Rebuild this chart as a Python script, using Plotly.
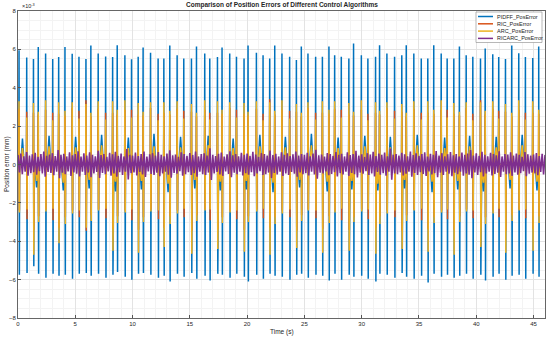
import numpy as np
import plotly.graph_objects as go

# ---------------- data (units: 1e-3 mm) ----------------
ev_t = [0.09, 0.76, 1.35, 1.77, 2.41, 3.03, 3.55, 4.10, 4.73, 5.32, 5.93, 6.36,
        7.00, 7.65, 8.26, 8.66, 9.33, 9.91, 10.49, 10.92, 11.57, 12.23, 12.73, 13.25,
        13.89, 14.47, 15.14, 15.58, 16.30, 16.74, 17.41, 17.81, 18.48, 19.07, 19.73, 20.08,
        20.81, 21.39, 21.97, 22.41, 23.04, 23.71, 24.30, 24.73, 25.31, 25.98, 26.57, 27.14,
        27.64, 28.22, 28.88, 29.29, 29.97, 30.54, 31.21, 31.56, 32.20, 32.87, 33.50, 33.89,
        34.55, 35.20, 35.77, 36.29, 36.94, 37.46, 38.04, 38.53, 39.12, 39.70, 40.37, 40.78,
        41.44, 41.96, 42.55, 43.10, 43.71, 44.29, 44.93, 45.45]

pid_pos = [5.95, 5.58, 5.50, 6.13, 5.78, 5.50, 5.60, 6.13, 5.77, 5.62, 5.50, 6.20,
           5.78, 5.63, 5.60, 6.22, 5.70, 5.48, 5.61, 6.10, 5.82, 5.53, 5.53, 6.20,
           5.70, 5.53, 5.53, 6.15, 5.78, 5.53, 5.60, 6.10, 5.78, 5.61, 5.53, 6.20,
           5.82, 5.70, 5.53, 6.20, 5.78, 5.61, 5.44, 6.15, 5.78, 5.61, 5.61, 6.15,
           5.70, 5.61, 5.53, 6.30, 5.70, 5.53, 5.61, 6.22, 5.78, 5.61, 5.70, 6.22,
           5.78, 5.53, 5.53, 6.22, 5.78, 5.53, 5.53, 6.15, 5.70, 5.61, 5.53, 6.05,
           5.75, 5.60, 5.50, 6.20, 5.80, 5.60, 5.55, 6.15]

pid_neg = [-5.75, -5.65, -5.30, -5.70, -5.90, -5.70, -5.80, -5.75, -5.95, -5.70, -5.65, -5.80,
           -5.70, -5.90, -5.75, -5.60, -5.85, -6.00, -5.70, -5.65, -5.75, -5.90, -5.80, -6.10,
           -5.70, -5.85, -5.65, -5.95, -5.80, -6.05, -5.70, -5.75, -5.90, -5.70, -5.85, -6.10,
           -5.75, -5.95, -5.70, -5.80, -5.85, -6.00, -5.75, -5.70, -5.90, -5.75, -5.80, -6.05,
           -5.70, -6.00, -5.75, -5.85, -5.80, -5.95, -6.10, -5.70, -5.75, -5.90, -5.65, -5.85,
           -5.95, -5.80, -6.15, -5.70, -5.85, -5.75, -5.90, -5.80, -5.70, -5.95, -5.75, -6.05,
           -5.85, -5.70, -6.00, -5.80, -5.75, -5.95, -5.70, -5.85]

ric_pos = [2.90, 2.75, 2.70, 2.60, 2.85, 2.70, 2.65, 2.55, 2.95, 2.80, 3.35, 2.50,
           2.90, 2.70, 2.70, 2.60, 2.85, 2.85, 2.60, 2.55, 2.95, 2.65, 2.70, 2.60,
           2.90, 2.80, 2.75, 2.50, 2.85, 2.70, 2.70, 2.65, 2.95, 2.85, 2.65, 2.55,
           2.90, 2.65, 3.40, 2.60, 2.85, 2.80, 2.75, 2.50, 2.95, 2.70, 2.70, 2.65,
           2.90, 2.85, 2.60, 2.55, 2.85, 2.65, 2.70, 2.60, 2.95, 2.80, 2.75, 2.50,
           2.90, 2.70, 2.70, 2.65, 2.85, 2.85, 2.65, 2.55, 2.95, 2.65, 3.35, 2.60,
           2.90, 2.80, 2.75, 2.50, 2.85, 2.70, 2.70, 2.65]

ric_neg = [-2.40, -2.85, -3.40, -2.70, -2.35, -2.90, -3.30, -2.75, -2.40, -2.75, -3.45, -2.65,
           -2.35, -2.80, -3.35, -2.70, -2.40, -2.90, -3.40, -2.75, -2.35, -2.85, -3.30, -2.70,
           -2.40, -2.75, -3.45, -2.65, -2.35, -2.90, -3.35, -2.75, -2.40, -2.85, -3.40, -2.70,
           -2.35, -2.80, -3.30, -2.75, -2.40, -2.75, -3.45, -2.65, -2.35, -2.80, -3.35, -2.70,
           -2.40, -2.90, -3.40, -2.75, -2.35, -2.85, -3.30, -2.70, -2.40, -2.75, -3.45, -2.65,
           -2.35, -2.90, -3.35, -2.75, -2.40, -2.85, -3.40, -2.70, -2.35, -2.80, -3.30, -2.75,
           -2.40, -2.75, -3.45, -2.65, -2.35, -2.80, -3.35, -2.70]

arc_pos = [3.30, 2.45, 3.20, 2.75, 3.35, 2.30, 3.25, 2.80, 3.25, 2.40, 3.15, 2.70,
           3.30, 2.35, 3.30, 2.85, 3.35, 2.45, 3.20, 2.75, 3.25, 2.30, 3.25, 2.80,
           3.30, 2.40, 3.15, 2.70, 3.35, 2.35, 3.30, 2.85, 3.25, 2.45, 3.20, 2.75,
           3.30, 2.30, 3.25, 2.80, 3.35, 2.40, 3.15, 2.70, 3.25, 2.35, 3.30, 2.85,
           3.30, 2.45, 3.20, 2.75, 3.35, 2.30, 3.25, 2.80, 3.25, 2.40, 3.15, 2.70,
           3.30, 2.35, 3.30, 2.85, 3.35, 2.45, 3.20, 2.75, 3.25, 2.30, 3.25, 2.80,
           3.30, 2.40, 3.15, 2.70, 3.35, 2.35, 3.30, 2.85]

arc_neg = [-2.50, -2.35, -4.70, -3.00, -2.45, -2.30, -4.10, -3.10, -2.55, -2.40, -3.30, -2.95,
           -2.40, -2.30, -4.50, -3.05, -2.50, -2.35, -4.60, -3.00, -2.45, -2.40, -4.30, -3.10,
           -2.55, -2.30, -4.65, -2.95, -2.40, -2.35, -4.40, -3.05, -2.50, -2.40, -4.55, -3.00,
           -2.45, -2.30, -4.70, -3.10, -2.55, -2.35, -4.35, -2.95, -2.40, -2.40, -4.60, -3.05,
           -2.50, -2.30, -4.50, -3.00, -2.45, -2.35, -4.65, -3.10, -2.55, -2.40, -4.40, -2.95,
           -2.40, -2.30, -4.55, -3.05, -2.50, -2.35, -4.70, -3.00, -2.45, -2.40, -4.30, -3.10,
           -2.55, -2.30, -4.60, -2.95, -2.40, -2.35, -4.50, -3.05]

blob_up_t = [0.39, 2.71, 5.03, 7.30, 9.63, 11.87, 14.19, 16.60, 18.78, 21.11,
             23.34, 25.61, 27.94, 30.27, 32.50, 34.85, 37.24, 39.42, 41.74, 44.01]
blob_up_pid = [1.35, 1.50, 1.45, 1.55, 1.40, 1.60, 1.45, 1.50, 1.35, 1.55,
               1.45, 1.60, 1.40, 1.50, 1.45, 1.55, 1.40, 1.50, 1.45, 1.55]
blob_up_arc = [0.85, 0.95, 0.90, 1.00, 0.85, 0.95, 0.90, 1.00, 0.85, 0.95,
               0.90, 1.00, 0.85, 0.95, 0.90, 1.00, 0.85, 0.95, 0.90, 1.00]
blob_dn_t = [1.62, 3.95, 6.21, 8.51, 10.77, 13.10, 15.43, 17.66, 19.93, 22.26,
             24.58, 26.99, 29.14, 31.41, 33.74, 36.14, 38.38, 40.63, 42.95, 45.30]
blob_dn_pid = [-1.20, -1.35, -1.25, -1.40, -1.30, -1.45, -1.25, -1.35, -1.30, -1.45,
               -1.20, -1.40, -1.30, -1.35, -1.25, -1.45, -1.30, -1.40, -1.25, -1.35]
blob_dn_arc = [-0.85, -0.95, -0.80, -0.90, -0.85, -1.00, -0.80, -0.90, -0.85, -0.95,
               -0.80, -0.90, -0.85, -1.00, -0.80, -0.90, -0.85, -0.95, -0.80, -0.90]

ricarc_upper = [0.50, 0.57, 0.43, 0.65, 0.47, 0.53, 0.61, 0.40, 0.55, 0.67, 0.45, 0.52, 0.59, 0.44, 0.75, 0.50, 0.56, 0.42, 0.63, 0.48,
                0.54, 0.69, 0.41, 0.58, 0.46, 0.64, 0.51, 0.43, 0.72, 0.49, 0.55, 0.40, 0.61, 0.53, 0.66, 0.45, 0.57, 0.42, 0.80, 0.50,
                0.47, 0.62, 0.44, 0.55, 0.68, 0.41, 0.53, 0.59, 0.46, 0.65, 0.50, 0.43, 0.57, 0.74, 0.48, 0.52, 0.40, 0.63, 0.55, 0.45,
                0.60, 0.49, 0.67, 0.42, 0.54, 0.58, 0.47, 0.85, 0.51, 0.44, 0.56, 0.62, 0.41, 0.53, 0.69, 0.48, 0.55, 0.43, 0.61, 0.50,
                0.57, 0.45, 0.66, 0.52, 0.40, 0.59, 0.54, 0.47, 0.73, 0.49, 0.56, 0.42, 0.64, 0.51, 0.58, 0.44, 0.53, 0.68, 0.46, 0.55,
                0.50, 0.61, 0.43, 0.57, 0.77, 0.48, 0.52, 0.41, 0.60, 0.54, 0.45, 0.65, 0.50, 0.56, 0.42, 0.63, 0.49, 0.55, 0.71, 0.47,
                0.53, 0.40, 0.59, 0.52, 0.66, 0.44, 0.57, 0.50, 0.62, 0.43, 0.83, 0.51, 0.55, 0.46, 0.61, 0.53, 0.42, 0.67, 0.49, 0.58,
                0.45, 0.54, 0.64, 0.41, 0.56, 0.50, 0.70, 0.47, 0.59, 0.43, 0.53, 0.65, 0.48, 0.55, 0.42, 0.62, 0.51, 0.57, 0.75, 0.46,
                0.58, 0.45, 0.66, 0.51, 0.43, 0.61, 0.54, 0.48, 0.69, 0.42, 0.55, 0.52, 0.63, 0.46, 0.57, 0.50, 0.40, 0.65, 0.53, 0.47,
                0.52, 0.60, 0.44, 0.56, 0.49]

ricarc_lower = [-0.42, -0.50, -0.37, -0.58, -0.45, -0.40, -0.53, -0.35, -0.47, -0.64, -0.39, -0.44, -0.56, -0.38, -0.72, -0.43, -0.50, -0.36, -0.60, -0.41,
                -0.48, -0.62, -0.37, -0.55, -0.42, -0.66, -0.46, -0.39, -0.70, -0.44, -0.51, -0.36, -0.59, -0.47, -0.63, -0.40, -0.54, -0.38, -0.78, -0.45,
                -0.41, -0.57, -0.39, -0.52, -0.65, -0.36, -0.49, -0.55, -0.43, -0.61, -0.46, -0.38, -0.53, -0.69, -0.44, -0.48, -0.35, -0.58, -0.50, -0.40,
                -0.55, -0.45, -0.63, -0.37, -0.50, -0.54, -0.42, -0.80, -0.47, -0.39, -0.52, -0.59, -0.36, -0.49, -0.66, -0.43, -0.51, -0.38, -0.57, -0.45,
                -0.53, -0.40, -0.61, -0.47, -0.35, -0.55, -0.50, -0.42, -0.70, -0.44, -0.52, -0.37, -0.60, -0.46, -0.54, -0.39, -0.48, -0.64, -0.41, -0.51,
                -0.45, -0.57, -0.38, -0.52, -0.74, -0.43, -0.47, -0.36, -0.56, -0.49, -0.40, -0.62, -0.45, -0.52, -0.37, -0.59, -0.44, -0.50, -0.67, -0.42,
                -0.48, -0.35, -0.55, -0.47, -0.62, -0.39, -0.53, -0.45, -0.58, -0.38, -0.79, -0.46, -0.51, -0.41, -0.57, -0.48, -0.37, -0.63, -0.44, -0.54,
                -0.40, -0.49, -0.60, -0.36, -0.52, -0.45, -0.66, -0.42, -0.55, -0.38, -0.48, -0.61, -0.43, -0.51, -0.37, -0.58, -0.46, -0.53, -0.71, -0.41,
                -0.54, -0.40, -0.62, -0.46, -0.38, -0.57, -0.49, -0.43, -0.65, -0.37, -0.51, -0.47, -0.59, -0.41, -0.53, -0.45, -0.35, -0.61, -0.48, -0.42,
                -0.47, -0.56, -0.39, -0.52, -0.44]

x_ticks = [0, 5, 10, 15, 20, 25, 30, 35, 40, 45]
y_ticks = [-8, -6, -4, -2, 0, 2, 4, 6, 8]

names = ["PIDFF_PosError", "RIC_PosError", "ARC_PosError", "RICARC_PosError"]
colors = ["#0072BD", "#D95319", "#EDB120", "#7E2F8E"]

T_END = 46.0


def spike_series(pos, neg, up_v=None, dn_v=None):
    pts = [(0.0, 0.0), (T_END, 0.0)]
    for t, p, n in zip(ev_t, pos, neg):
        pts += [(t - 0.02, 0.0), (t, p), (t + 0.03, n), (t + 0.05, 0.0)]
    if up_v is not None:
        for t, v in zip(blob_up_t, up_v):
            pts += [(t - 0.15, 0.0), (t, v), (t + 0.15, 0.0)]
    if dn_v is not None:
        for t, v in zip(blob_dn_t, dn_v):
            pts += [(t - 0.15, 0.0), (t, v), (t + 0.15, 0.0)]
    pts.sort(key=lambda a: a[0])
    return [a[0] for a in pts], [a[1] for a in pts]


fig = go.Figure()

x, y = spike_series(pid_pos, pid_neg, blob_up_pid, blob_dn_pid)
fig.add_trace(go.Scatter(x=x, y=y, mode="lines", name=names[0],
                         line=dict(color=colors[0], width=1.5)))
x, y = spike_series(ric_pos, ric_neg)
fig.add_trace(go.Scatter(x=x, y=y, mode="lines", name=names[1],
                         line=dict(color=colors[1], width=1.5)))
x, y = spike_series(arc_pos, arc_neg, blob_up_arc, blob_dn_arc)
fig.add_trace(go.Scatter(x=x, y=y, mode="lines", name=names[2],
                         line=dict(color=colors[2], width=1.5)))

# RICARC: dense noise band drawn as zigzag between envelope values
n_env = min(len(ricarc_upper), len(ricarc_lower))
env_t = np.linspace(0, T_END, n_env)
half = (env_t[1] - env_t[0]) / 2
zx, zy = [], []
for i in range(n_env):
    zx += [env_t[i], env_t[i] + half]
    zy += [ricarc_upper[i], ricarc_lower[i]]
fig.add_trace(go.Scatter(x=zx, y=zy, mode="lines", name=names[3],
                         line=dict(color=colors[3], width=1.6)))

# ---------------- layout ----------------
L, R, T, B = 18, 5, 11, 21
W, H = 550, 339
pw, ph = W - L - R, H - T - B


def px(xp):
    return (xp - L) / pw


def py(yp):
    return (H - B - yp) / ph


FONT = "Liberation Sans, Arial, sans-serif"
TXT = "#262626"

fig.update_layout(
    width=W, height=H, margin=dict(l=L, r=R, t=T, b=B),
    paper_bgcolor="white", plot_bgcolor="white",
    showlegend=False,
    font=dict(family=FONT, size=6, color=TXT),
    xaxis=dict(range=[0, T_END], tickvals=x_ticks, ticks="inside", ticklen=3,
               tickcolor="#555", showline=True, mirror=True, linecolor="#666",
               linewidth=0.8, showgrid=True, gridcolor="#e3e3e3", gridwidth=0.6,
               zeroline=False, tickfont=dict(size=6, color=TXT),
               minor=dict(dtick=1, showgrid=True, gridcolor="#f3f3f3", gridwidth=0.5)),
    yaxis=dict(range=[-8, 8], tickvals=y_ticks, ticks="inside", ticklen=3,
               tickcolor="#555", showline=True, mirror=True, linecolor="#666",
               linewidth=0.8, showgrid=True, gridcolor="#e3e3e3", gridwidth=0.6,
               zeroline=False, tickfont=dict(size=6, color=TXT),
               minor=dict(dtick=0.5, showgrid=True, gridcolor="#f3f3f3", gridwidth=0.5)),
)

ann = [
    dict(text="<b>Comparison of Position Errors of Different Control Algorithms</b>",
         x=0.5, y=py(5.5), xref="paper", yref="paper", showarrow=False,
         xanchor="center", yanchor="middle", font=dict(size=6.5, color=TXT)),
    dict(text="×10<sup>-3</sup>", x=px(19.5), y=py(6), xref="paper", yref="paper",
         showarrow=False, xanchor="left", yanchor="middle", font=dict(size=5.5, color=TXT)),
    dict(text="Position error (mm)", textangle=-90, x=px(6.5), y=0.5, xref="paper",
         yref="paper", showarrow=False, xanchor="center", yanchor="middle",
         font=dict(size=6.5, color=TXT)),
    dict(text="Time (s)", x=0.5, y=py(332), xref="paper", yref="paper",
         showarrow=False, xanchor="center", yanchor="middle", font=dict(size=6.5, color=TXT)),
]

shapes = [dict(type="rect", xref="paper", yref="paper", x0=px(476), x1=px(542),
               y0=py(42.5), y1=py(12), fillcolor="white",
               line=dict(color="#999", width=0.7), layer="above")]
entry_y = [16.5, 23.8, 31.1, 38.4]
for nm, c, ey in zip(names, colors, entry_y):
    shapes.append(dict(type="line", xref="paper", yref="paper", x0=px(478), x1=px(493),
                       y0=py(ey), y1=py(ey), line=dict(color=c, width=1.5), layer="above"))
    ann.append(dict(text=nm, x=px(495), y=py(ey), xref="paper", yref="paper",
                    showarrow=False, xanchor="left", yanchor="middle",
                    font=dict(size=5.5, color=TXT)))

fig.update_layout(annotations=ann, shapes=shapes)
fig.write_html("out.html", config={"displayModeBar": False},
               post_script="document.body.style.margin='0px';document.body.style.overflow='hidden';")
